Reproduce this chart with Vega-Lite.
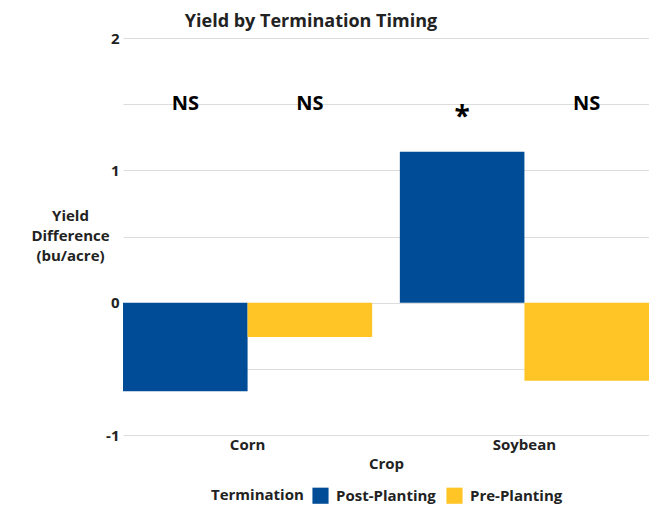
{
  "$schema": "https://vega.github.io/schema/vega-lite/v6.json",
  "autosize": "none",
  "width": 526,
  "height": 397,
  "padding": {"left": 123, "top": 38, "right": 0, "bottom": 77},
  "background": "white",
  "config": {
    "font": "Open Sans",
    "view": {"stroke": null}
  },
  "title": {
    "text": "Yield by Termination Timing",
    "anchor": "middle",
    "frame": "group",
    "dx": -75,
    "offset": 0,
    "fontSize": 18,
    "fontWeight": "bold",
    "color": "#222222"
  },
  "data": {
    "values": [
      {"Crop": "Corn", "Termination": "Post-Planting", "Yield": -0.67, "Sig": "NS"},
      {"Crop": "Corn", "Termination": "Pre-Planting", "Yield": -0.26, "Sig": "NS"},
      {"Crop": "Soybean", "Termination": "Post-Planting", "Yield": 1.14, "Sig": "*"},
      {"Crop": "Soybean", "Termination": "Pre-Planting", "Yield": -0.59, "Sig": "NS"}
    ]
  },
  "encoding": {
    "x": {
      "field": "Crop",
      "type": "nominal",
      "scale": {"paddingInner": 0.1, "paddingOuter": 0},
      "axis": {
        "title": "Crop",
        "labelAngle": 0,
        "domain": false,
        "ticks": false,
        "labelFontSize": 15,
        "labelFontWeight": "bold",
        "labelColor": "#222222",
        "labelPadding": 2,
        "titleFontSize": 15,
        "titleFontWeight": "bold",
        "titleColor": "#222222",
        "titlePadding": 4
      }
    },
    "xOffset": {"field": "Termination", "type": "nominal"}
  },
  "layer": [
    {
      "mark": {"type": "bar"},
      "encoding": {
        "y": {
          "field": "Yield",
          "type": "quantitative",
          "scale": {"domain": [-1, 2], "nice": false},
          "axis": {
            "values": [-1, -0.5, 0, 0.5, 1, 1.5, 2],
            "labelExpr": "datum.value % 1 === 0 ? '' + datum.value : ''",
            "domain": false,
            "ticks": false,
            "gridColor": "#dddddd",
            "labelFontSize": 15,
            "labelFontWeight": "bold",
            "labelColor": "#222222",
            "labelPadding": 4,
            "title": ["Yield", "Difference", "(bu/acre)"],
            "titleAngle": 0,
            "titleAlign": "center",
            "titleBaseline": "top",
            "titleX": -53,
            "titleY": 170,
            "titleFontSize": 15,
            "titleFontWeight": "bold",
            "titleColor": "#222222",
            "titleLineHeight": 20
          }
        },
        "color": {
          "field": "Termination",
          "type": "nominal",
          "scale": {"domain": ["Post-Planting", "Pre-Planting"], "range": ["#004C97", "#FFC425"]},
          "legend": {
            "orient": "none",
            "legendX": 88,
            "legendY": 449,
            "direction": "horizontal",
            "title": "Termination",
            "titleOrient": "left",
            "titleFontSize": 15,
            "titleFontWeight": "bold",
            "titleColor": "#222222",
            "titlePadding": 8,
            "labelFontSize": 15,
            "labelFontWeight": "bold",
            "labelColor": "#222222",
            "labelOffset": 7,
            "columnPadding": 10,
            "symbolType": "square",
            "symbolSize": 260,
            "symbolStrokeWidth": 0
          }
        }
      }
    },
    {
      "transform": [{"filter": "datum.Sig === 'NS'"}],
      "mark": {"type": "text", "fontSize": 20, "fontWeight": "bold", "color": "#000000", "baseline": "middle"},
      "encoding": {
        "y": {"datum": 1.5, "type": "quantitative"},
        "text": {"field": "Sig"}
      }
    },
    {
      "transform": [{"filter": "datum.Sig === '*'"}],
      "mark": {"type": "text", "fontSize": 28, "fontWeight": "bold", "color": "#000000", "baseline": "middle", "dy": 14},
      "encoding": {
        "y": {"datum": 1.5, "type": "quantitative"},
        "text": {"field": "Sig"}
      }
    }
  ]
}
